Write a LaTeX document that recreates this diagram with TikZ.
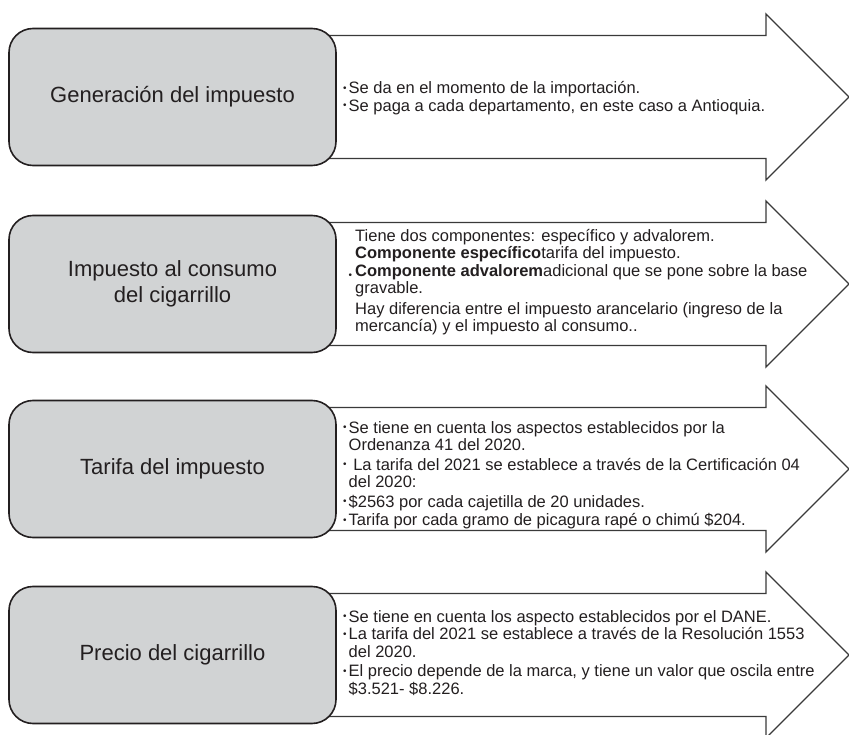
\documentclass[tikz,border=0pt]{standalone}
\usepackage{fontspec}
\setmainfont{Liberation Sans}
\usepackage{graphicx}

\definecolor{boxgray}{HTML}{D1D3D4}
\definecolor{inkdark}{HTML}{231F20}
\definecolor{arrowline}{HTML}{3A3A3A}

\newcommand{\bul}{\makebox[5.5pt][l]{\raisebox{0.28ex}{\scalebox{0.6}{\textbullet}}}}
\newcommand{\ind}{\hspace*{5.5pt}}

\begin{document}
\begin{tikzpicture}[
  x=1pt, y=-1pt,
  every node/.style={text=inkdark},
  box/.style={draw=inkdark, line width=1.6pt, fill=boxgray, rounded corners=24pt,
    minimum width=327pt, minimum height=137pt, align=center,
    font=\fontsize{22}{26}\selectfont},
  arrowshape/.style={draw=arrowline, line width=1.3pt, fill=white, line join=miter},
  info/.style={anchor=west, align=left, inner sep=0pt,
    font=\fontsize{16.5}{17.5}\selectfont}
  ]

  \useasboundingbox (0,0) rectangle (849,735);

  % Arrows behind the boxes
  \draw[arrowshape] (200,35.5) -- (766,35.5) -- (766,14) -- (849,97)
    -- (766,180) -- (766,158.5) -- (200,158.5) -- cycle;
  \draw[arrowshape] (200,222.5) -- (766,222.5) -- (766,201) -- (849,284)
    -- (766,367) -- (766,345.5) -- (200,345.5) -- cycle;
  \draw[arrowshape] (200,407.5) -- (766,407.5) -- (766,386) -- (849,469)
    -- (766,552) -- (766,530.5) -- (200,530.5) -- cycle;
  \draw[arrowshape] (200,593.5) -- (766,593.5) -- (766,572) -- (849,655)
    -- (766,738) -- (766,716.5) -- (200,716.5) -- cycle;

  % Define nodes
  \node[box] (gen) at (172.5,97) {Generación del impuesto};
  \node[box] (con) at (172.5,284) {Impuesto al consumo\\del cigarrillo};
  \node[box] (tar) at (172.5,469) {Tarifa del impuesto};
  \node[box] (pre) at (172.5,655) {Precio del cigarrillo};

  % Texts in the arrows
  \node[info] (gentxt) at (343,98) {\bul Se da en el momento de la importación.\\
    \bul Se paga a cada departamento, en este caso a Antioquia.};

  \node[info] (contxt) at (355,282) {Tiene dos componentes: específico y advalorem.\\
    \textbf{Componente específico}tarifa del impuesto.\\
    \llap{\raisebox{-0.3ex}{\scalebox{0.6}{\textbullet}}\hspace{3pt}}\textbf{Componente advalorem}adicional que se pone sobre la base\\
    gravable.\\[3pt]
    Hay diferencia entre el impuesto arancelario (ingreso de la\\
    mercancía) y el impuesto al consumo..};

  \node[info] (tartxt) at (343,475) {\bul Se tiene en cuenta los aspectos establecidos por la\\
    \ind Ordenanza 41 del 2020.\\[2pt]
    \bul\ La tarifa del 2021 se establece a través de la Certificación 04\\
    \ind del 2020:\\[2pt]
    \bul\$2563 por cada cajetilla de 20 unidades.\\[1pt]
    \bul Tarifa por cada gramo de picagura rapé o chimú \$204.};

  \node[info] (pretxt) at (343,653) {\bul Se tiene en cuenta los aspecto establecidos por el DANE.\\
    \bul La tarifa del 2021 se establece a través de la Resolución 1553\\
    \ind del 2020.\\[2pt]
    \bul El precio depende de la marca, y tiene un valor que oscila entre\\
    \ind \$3.521- \$8.226.};

\end{tikzpicture}
\end{document}
